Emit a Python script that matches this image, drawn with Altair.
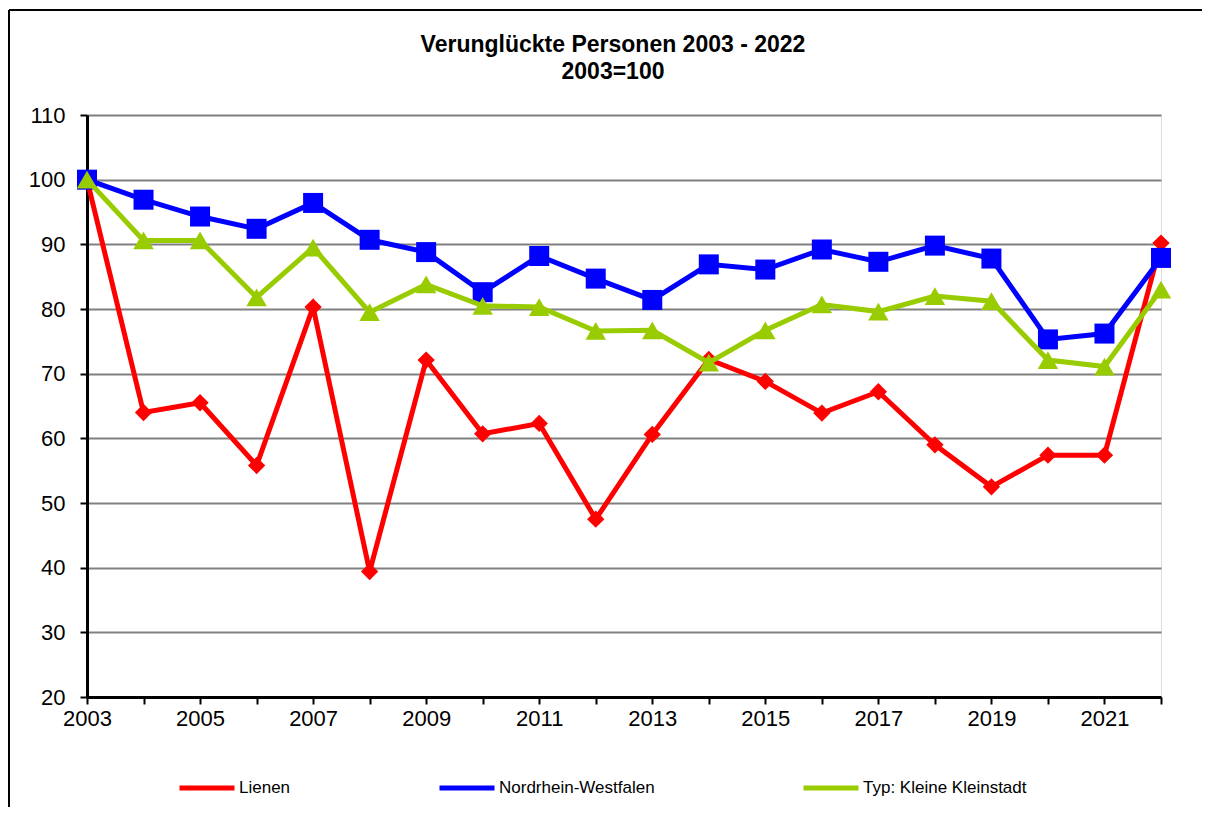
import altair as alt
import pandas as pd

years = list(range(2003, 2023))
series_names = ["Lienen", "Nordrhein-Westfalen", "Typ: Kleine Kleinstadt"]
series_colors = ["#FF0000", "#0000FF", "#99CC00"]

lienen = [100, 64.0, 65.5, 55.8, 80.3, 39.4, 72.1, 60.7, 62.3, 47.5,
          60.6, 72.2, 68.8, 63.9, 67.2, 59.0, 52.5, 57.4, 57.4, 90.2]
nrw = [100, 96.9, 94.3, 92.4, 96.4, 90.7, 88.8, 82.6, 88.2, 84.7,
       81.4, 86.9, 86.1, 89.2, 87.3, 89.8, 87.8, 75.3, 76.2, 87.9]
kleinstadt = [100, 90.6, 90.6, 81.8, 89.5, 79.5, 83.8, 80.5, 80.3, 76.6,
              76.7, 71.7, 76.7, 80.7, 79.6, 82.0, 81.2, 72.1, 71.1, 83.0]

title_lines = ["Verunglückte Personen 2003 - 2022", "2003=100"]
y_ticks = list(range(20, 111, 10))

rows = []
for name, vals in zip(series_names, [lienen, nrw, kleinstadt]):
    for yr, v in zip(years, vals):
        rows.append({"year": yr, "value": v, "series": name})
df = pd.DataFrame(rows)

FONT = "Liberation Sans"

color_scale = alt.Scale(domain=series_names, range=series_colors)
legend = alt.Legend(
    title=None, orient="none", direction="horizontal", legendX=90, legendY=643,
    symbolType="stroke", symbolSize=3025, symbolStrokeWidth=5,
    labelFont=FONT, labelFontSize=17, labelColor="black", labelOffset=2,
    columnPadding=138, padding=0, labelLimit=400,
)

x_enc = alt.X(
    "year:Q",
    scale=alt.Scale(domain=[2003, 2022], nice=False, zero=False),
    axis=alt.Axis(
        values=years, title=None, grid=False,
        labelExpr="datum.value % 2 == 1 ? format(datum.value, 'd') : ''",
        labelFlush=False, labelOverlap=False, labelBound=False,
        tickSize=7, tickWidth=2, tickColor="black",
        domainColor="black", domainWidth=3,
        labelFont=FONT, labelFontSize=22, labelColor="black", labelPadding=4,
    ),
)
y_enc = alt.Y(
    "value:Q",
    scale=alt.Scale(domain=[20, 110], nice=False, zero=False),
    axis=alt.Axis(
        values=y_ticks, title=None, grid=True, gridColor="#808080", gridWidth=2,
        tickSize=7, tickWidth=2, tickColor="black",
        domainColor="black", domainWidth=3,
        labelFont=FONT, labelFontSize=22, labelColor="black", labelPadding=15,
    ),
)


def series_layer(name, shape, size):
    return (
        alt.Chart(df)
        .transform_filter(alt.datum.series == name)
        .mark_line(
            strokeWidth=5,
            point=alt.OverlayMarkDef(shape=shape, size=size, filled=True, opacity=1),
        )
        .encode(x=x_enc, y=y_enc,
                color=alt.Color("series:N", scale=color_scale, legend=legend))
    )


one = pd.DataFrame({"k": [0]})
frame_left = alt.Chart(one).mark_rule(color="black", strokeWidth=2).encode(
    x=alt.value(-78), y=alt.value(-105), y2=alt.value(720)
)
frame_top = alt.Chart(one).mark_rule(color="black", strokeWidth=2).encode(
    x=alt.value(-78), x2=alt.value(1130), y=alt.value(-105)
)


def title_text(line, ypos):
    return alt.Chart(one).mark_text(
        font=FONT, fontSize=23, fontWeight="bold", color="black",
        align="center", baseline="alphabetic",
    ).encode(x=alt.value(526), y=alt.value(ypos), text=alt.value(line))


chart = (
    alt.layer(
        series_layer("Lienen", "diamond", 300),
        series_layer("Nordrhein-Westfalen", "square", 400),
        series_layer("Typ: Kleine Kleinstadt", "triangle-up", 420),
        frame_left,
        frame_top,
        title_text(title_lines[0], -63),
        title_text(title_lines[1], -36),
    )
    .properties(
        width=1074, height=582,
        autosize=alt.AutoSizeParams(type="none"),
        padding={"left": 79, "top": 107, "right": 41, "bottom": 110},
    )
    .configure_view(stroke="black", strokeWidth=3, fill="#FFFFCC")
    .configure(background="white")
)

chart.save("out.html", embed_options={"renderer": "svg", "actions": False})
